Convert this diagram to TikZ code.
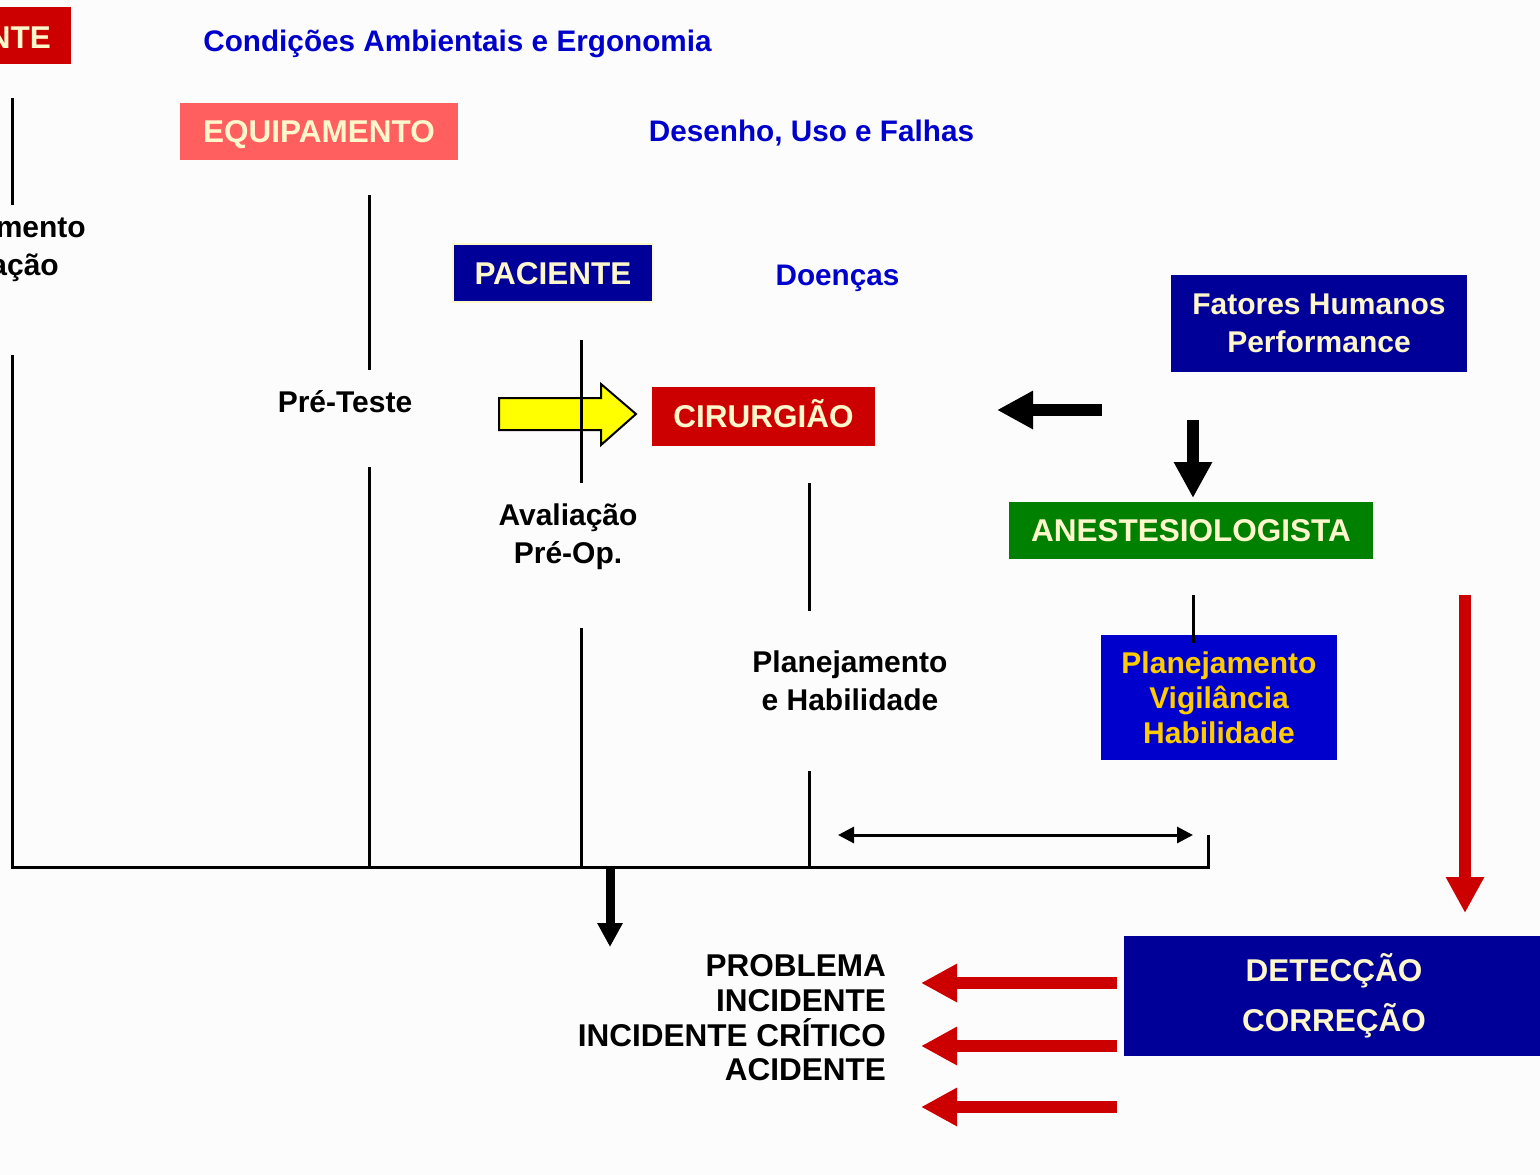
\documentclass[tikz,border=0pt]{standalone}
\usepackage{fontspec}
\setmainfont{Liberation Sans}
\usetikzlibrary{arrows.meta}

\definecolor{bg}{HTML}{FCFCFC}
\definecolor{boxred}{HTML}{CC0000}
\definecolor{salmon}{HTML}{FF5F5F}
\definecolor{navy}{HTML}{000099}
\definecolor{royal}{HTML}{0000CC}
\definecolor{leaf}{HTML}{008000}
\definecolor{cream}{HTML}{FFF7CC}
\definecolor{gold}{HTML}{FFCC00}
\definecolor{lemon}{HTML}{FFFF00}

\begin{document}
\begin{tikzpicture}[x=1pt,y=-1pt,
  box/.style={rectangle, inner sep=0pt, text=cream,
    font=\fontsize{31.5}{36}\selectfont\bfseries},
  capsbox/.style={box, text height=22.5pt, text depth=0pt},
  lbl/.style={inner sep=0pt, font=\fontsize{30}{38}\selectfont\bfseries},
  bluelbl/.style={lbl, text=royal, anchor=base, font=\fontsize{29.7}{38}\selectfont\bfseries},
  rule/.style={line width=3pt},
  heavy/.style={line width=12pt, -{Triangle[length=36pt,width=36pt]}},
]
\useasboundingbox (0,0) rectangle (1540,1175);
\fill[bg] (0,0) rectangle (1540,1175);

% ---------- coloured boxes ----------
\node[box, fill=boxred, minimum width=71pt, minimum height=57pt,
      anchor=north west] (envbox) at (0,7) {};
\node[box, anchor=base east] (envtext) at (51,48) {NTE};

\node[capsbox, fill=salmon, minimum width=278pt, minimum height=57pt]
  (equip) at (319,131.5) {EQUIPAMENTO};

\node[capsbox, fill=navy, draw=cream, line width=2pt,
      minimum width=200pt, minimum height=58pt] (patient) at (553,273) {PACIENTE};

\node[capsbox, fill=boxred, minimum width=223pt, minimum height=59pt]
  (surgeon) at (763.5,416.5) {CIRURGIÃO};

\node[box, fill=navy, minimum width=296pt, minimum height=97pt, align=center,
      font=\fontsize{30}{38}\selectfont\bfseries] (human) at (1319,323.5)
  {Fatores Humanos\\Performance};

\node[capsbox, fill=leaf, minimum width=364pt, minimum height=57pt]
  (anest) at (1191,530.5) {ANESTESIOLOGISTA};

\node[box, fill=royal, text=gold, minimum width=236pt, minimum height=125pt,
      align=center, font=\fontsize{30}{35}\selectfont\bfseries]
  (skills) at (1219,697.5) {Planejamento\\Vigilância\\Habilidade};

\node[box, fill=navy, minimum width=420pt, minimum height=120pt, align=center,
      font=\fontsize{31.5}{50}\selectfont\bfseries] (detect) at (1334,996)
  {DETECÇÃO\\CORREÇÃO};

% ---------- labels ----------
\node[bluelbl] (ergo) at (457.5,51) {Condições Ambientais e Ergonomia};
\node[bluelbl] (design) at (811.5,141) {Desenho, Uso e Falhas};
\node[bluelbl] (disease) at (837.5,285) {Doenças};

\node[lbl, anchor=base east] (trainA) at (86,237) {mento};
\node[lbl, anchor=base east] (trainB) at (59,275) {ação};
\node[lbl, anchor=base] (pretest) at (345,412) {Pré-Teste};
\node[lbl, align=center] (preop) at (568,537) {Avaliação\\Pré-Op.};
\node[lbl, align=center] (plan) at (850,681) {Planejamento\\e Habilidade};
\node[lbl, align=right, anchor=east,
      font=\fontsize{31.5}{34.7}\selectfont\bfseries] (outcomes) at (886,1018)
  {PROBLEMA\\INCIDENTE\\INCIDENTE CRÍTICO\\ACIDENTE};

% ---------- yellow block arrow into the surgeon box ----------
\filldraw[fill=lemon, draw=black, line width=2pt, line join=miter]
  (499,398) -- (601,398) -- (601,384) -- (636,414) -- (601,445)
  -- (601,430) -- (499,430) -- cycle;

% ---------- timeline rules ----------
\coordinate (a1) at (12,98);   \coordinate (a2) at (12,205);
\coordinate (a3) at (12,355);  \coordinate (corner) at (12,867);
\coordinate (endc) at (1208,867); \coordinate (endt) at (1208,835);
\coordinate (b1) at (369,195); \coordinate (b2) at (369,370);
\coordinate (b3) at (369,467); \coordinate (b4) at (369,867);
\coordinate (c1) at (581,340); \coordinate (c2) at (581,483);
\coordinate (c3) at (581,628); \coordinate (c4) at (581,867);
\coordinate (d1) at (809,483); \coordinate (d2) at (809,611);
\coordinate (d3) at (809,771); \coordinate (d4) at (809,867);
\coordinate (e1) at (1193,595); \coordinate (e2) at (1193,643);

\draw[rule] (a1) -- (a2);
\draw[rule, line join=miter] (a3) -- (corner) -- (endc) -- (endt);
\draw[rule] (b1) -- (b2);
\draw[rule] (b3) -- (b4);
\draw[rule] (c1) -- (c2);
\draw[rule] (c3) -- (c4);
\draw[rule] (d1) -- (d2);
\draw[rule] (d3) -- (d4);
\draw[rule] (e1) -- (e2);

% ---------- arrows ----------
\coordinate (hl1) at (1102,410); \coordinate (hl2) at (997,410);
\coordinate (hd1) at (1193,420); \coordinate (hd2) at (1193,498);
\draw[heavy] (hl1) -- (hl2);
\draw[heavy] (hd1) -- (hd2);

\coordinate (m1) at (838,835); \coordinate (m2) at (1193,835);
\draw[line width=3pt, {Triangle[length=16pt,width=16pt]}-{Triangle[length=16pt,width=16pt]}]
  (m1) -- (m2);

\coordinate (o1) at (610,866); \coordinate (o2) at (610,947);
\draw[line width=9pt, -{Triangle[length=24pt,width=24pt]}] (o1) -- (o2);

\coordinate (r1) at (1465,595); \coordinate (r2) at (1465,913);
\draw[heavy, boxred] (r1) -- (r2);

\foreach \yy [count=\i] in {983,1046,1107}{
  \coordinate (fb\i) at (1117,\yy);
  \coordinate (ft\i) at (921,\yy);
  \draw[heavy, boxred] (fb\i) -- (ft\i);
}
\end{tikzpicture}
\end{document}
